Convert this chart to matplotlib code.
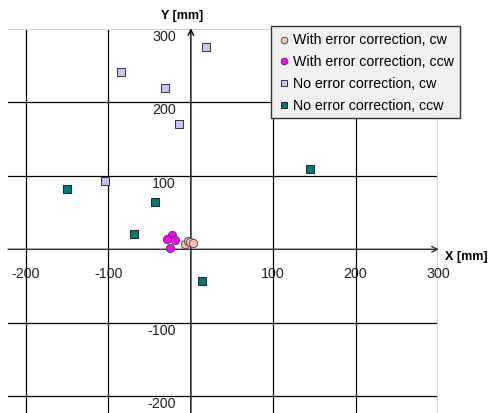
import matplotlib.pyplot as plt

plt.rcParams['font.family'] = ['Liberation Sans', 'DejaVu Sans']

# Data (mm)
with_cw_x = [-7, -3.5, -0.5, 2.5]
with_cw_y = [7, 11, 9.5, 8]
with_ccw_x = [-22.5, -28.5, -19.5, -25.5]
with_ccw_y = [20, 13.5, 12.5, 1.5]
no_cw_x = [18, -85, -31, -14.5, -104]
no_cw_y = [275, 241, 220, 171, 93]
no_ccw_x = [-150, 145, -44, -68.5, 14]
no_ccw_y = [82, 109, 64, 21, -43.5]

ticks = [-200, -100, 100, 200, 300]

fig = plt.figure(figsize=(4.95, 4.14), dpi=100)
ax = fig.add_axes([8 / 495, 0, 430 / 495, 384 / 414])
ax.set_xlim(-222, 300)
ax.set_ylim(-223, 300)
ax.axis('off')

# grid
for t in ticks[:-1]:
    ax.axvline(t, color='black', lw=0.9, zorder=1)
    ax.axhline(t, color='black', lw=0.9, zorder=1)
ax.axvline(300, color='#d4d4d4', lw=1.6, zorder=1)
ax.axhline(300, color='#d4d4d4', lw=1.6, zorder=1)

# axes with arrows
ax.annotate('', xy=(301, 0), xytext=(-222, 0), annotation_clip=False,
            arrowprops=dict(arrowstyle='->', color='#303030', lw=1.0,
                            shrinkA=0, shrinkB=0), zorder=2)
ax.annotate('', xy=(0, 301), xytext=(0, -223), annotation_clip=False,
            arrowprops=dict(arrowstyle='->', color='black', lw=1.0,
                            shrinkA=0, shrinkB=0), zorder=2)

# tick labels
for t in ticks:
    ax.text(t, -33, str(t), ha='center', va='center', fontsize=10.3, color='#222222')
    ax.text(-18, t - 9.5, str(t), ha='right', va='center', fontsize=10.3, color='#222222')

ax.text(-11, 319, 'Y [mm]', ha='center', va='center', fontsize=9, fontweight='bold',
        clip_on=False)
ax.text(309, -9, 'X [mm]', ha='left', va='center', fontsize=9, fontweight='bold',
        clip_on=False)

ax.scatter(with_cw_x, with_cw_y, s=36, marker='o', c='#f8bcb4',
           edgecolors='#444444', linewidths=0.6, zorder=4,
           label='With error correction, cw')
ax.scatter(with_ccw_x, with_ccw_y, s=36, marker='o', c='#ff00ff',
           edgecolors='#444444', linewidths=0.6, zorder=4,
           label='With error correction, ccw')
ax.scatter(no_cw_x, no_cw_y, s=36, marker='s', c='#c4c4f8',
           edgecolors='#333333', linewidths=0.7, zorder=3,
           label='No error correction, cw')
ax.scatter(no_ccw_x, no_ccw_y, s=36, marker='s', c='#007b7b',
           edgecolors='#222222', linewidths=0.7, zorder=3,
           label='No error correction, ccw')

leg = ax.legend(loc='upper left', bbox_to_anchor=(263 / 430, 1.008), fontsize=10.2,
                frameon=True, fancybox=False, markerscale=0.8, handletextpad=0.1,
                handlelength=1.0, borderpad=0.45, labelspacing=0.55,
                borderaxespad=0)
leg.get_frame().set_facecolor('#f0f0f0')
leg.get_frame().set_edgecolor('#333333')
leg.get_frame().set_linewidth(1.0)
leg.get_frame().set_alpha(1)
leg.set_zorder(10)

fig.savefig('out.png', dpi=100)
